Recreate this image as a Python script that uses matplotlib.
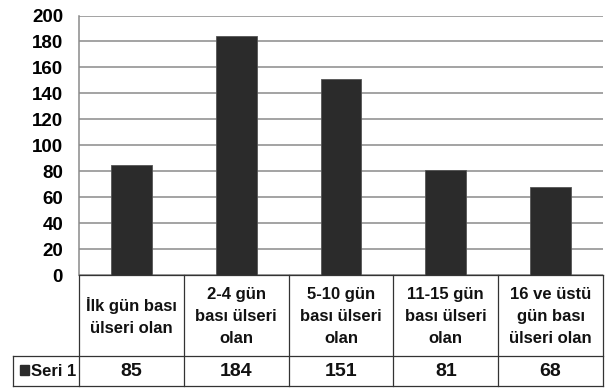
import matplotlib
matplotlib.use("Agg")
import matplotlib.pyplot as plt
from matplotlib.patches import Rectangle
from matplotlib.lines import Line2D

categories = ["İlk gün bası\nülseri olan", "2-4 gün\nbası ülseri\nolan", "5-10 gün\nbası ülseri\nolan",
              "11-15 gün\nbası ülseri\nolan", "16 ve üstü\ngün bası\nülseri olan"]
values = [85, 184, 151, 81, 68]
series_name = "Seri 1"
yticks = [0, 20, 40, 60, 80, 100, 120, 140, 160, 180, 200]

W, H = 609, 388
plt.rcParams['font.family'] = ['Liberation Sans', 'DejaVu Sans']
fig = plt.figure(figsize=(W / 100, H / 100), dpi=100)

left, right, top, bottom = 79, 603, 15.5, 275
ax = fig.add_axes([left / W, 1 - bottom / H, (right - left) / W, (bottom - top) / H])
x = list(range(len(values)))
ax.bar(x, values, width=0.39, color="#2b2b2b", edgecolor="#555555", linewidth=0.6, zorder=3)
ax.set_xlim(-0.5, len(values) - 0.5)
ax.set_ylim(0, 200)
ax.set_yticks(yticks)
ax.set_yticklabels([str(t) for t in yticks], fontsize=13.5, fontweight='bold')
ax.tick_params(axis='y', length=0, pad=11.5)
ax.set_xticks([])
ax.yaxis.grid(True, color="#8a8a8a", linewidth=1.1, zorder=0)
for s in ["top", "right", "bottom"]:
    ax.spines[s].set_visible(False)
ax.spines["left"].set_color("#8a8a8a")
ax.spines["left"].set_linewidth(1.1)

# table overlay
tab = fig.add_axes([0, 0, 1, 1])
tab.set_xlim(0, W)
tab.set_ylim(H, 0)
tab.axis("off")
n = len(values)
colw = (right - left) / n
row1_top, row1_bot, row2_bot = 275, 356, 386
lc = "#333333"
lw = 0.9
# horizontal lines
tab.add_line(Line2D([left, right], [row1_top, row1_top], color=lc, lw=lw))
tab.add_line(Line2D([13, right], [row1_bot, row1_bot], color=lc, lw=lw))
tab.add_line(Line2D([13, right], [row2_bot, row2_bot], color=lc, lw=lw))
# vertical lines
tab.add_line(Line2D([13, 13], [row1_bot, row2_bot], color=lc, lw=lw))
for i in range(n + 1):
    xx = left + i * colw
    tab.add_line(Line2D([xx, xx], [row1_top, row2_bot], color=lc, lw=lw))
for i, (c, v) in enumerate(zip(categories, values)):
    cx = left + (i + 0.5) * colw
    tab.text(cx, (row1_top + row1_bot) / 2 + 1, c, ha='center', va='center', fontsize=12,
             fontweight='bold', linespacing=1.62, color="#111111")
    tab.text(cx, (row1_bot + row2_bot) / 2 + 1, str(v), ha='center', va='center', fontsize=14,
             fontweight='bold', color="#111111")
tab.add_patch(Rectangle((20, 365), 9, 10, color="#2b2b2b"))
tab.text(31, (row1_bot + row2_bot) / 2 + 1, series_name, ha='left', va='center', fontsize=12,
         fontweight='bold', color="#111111")

fig.savefig("out.png", dpi=100)
